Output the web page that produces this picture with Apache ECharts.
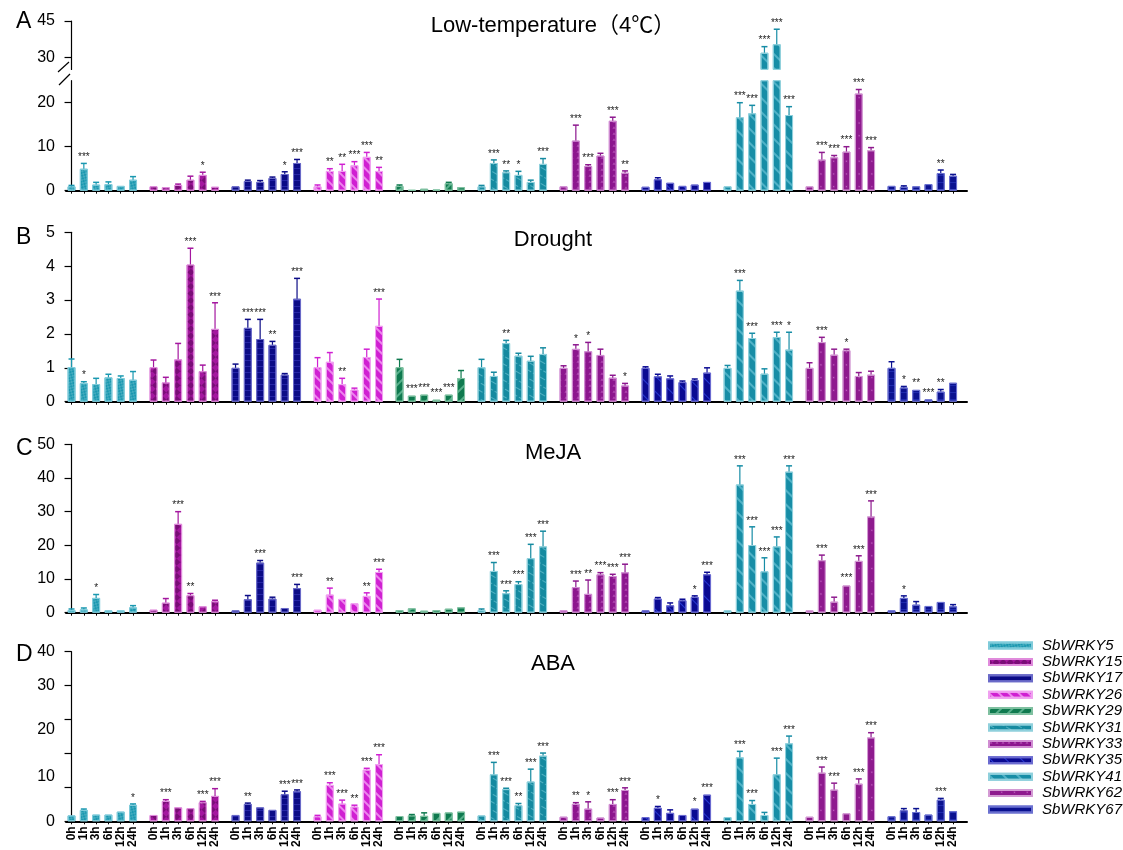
<!DOCTYPE html>
<html><head><meta charset="utf-8">
<script src="https://cdn.jsdelivr.net/npm/echarts@6/dist/echarts.min.js"></script>
<style>html,body{margin:0;padding:0;background:#fff}#c{width:1123px;height:850px}</style>
</head><body><div id="c"></div>
<script>
// ---------------- data ----------------
const genes = ['SbWRKY5','SbWRKY15','SbWRKY17','SbWRKY26','SbWRKY29','SbWRKY31','SbWRKY33','SbWRKY35','SbWRKY41','SbWRKY62','SbWRKY67'];
const timeLabels = ['0h','1h','3h','6h','12h','24h'];
const panelLetters = ['A','B','C','D'];
const panelTitles = ['Low-temperature（4℃）','Drought','MeJA','ABA'];

// A: Low-temperature (4℃)
const lowTempMean = [
 [1.0,5.0,1.4,1.5,1.1,2.5],[1.0,0.8,1.3,2.5,3.6,0.9],[1.0,2.2,2.0,2.9,3.8,6.3],[1.0,4.5,4.5,5.8,7.7,4.5],
 [1.1,0.15,0.45,0.25,1.7,0.8],[1.0,6.3,4.2,3.6,2.0,6.1],[1.0,11.4,5.6,8.0,15.9,4.1],[0.9,2.6,1.8,1.1,1.4,2.0],
 [1.0,16.7,17.6,31.9,35.4,17.2],[1.0,7.1,7.6,8.9,22.1,9.2],[1.1,0.9,1.0,1.5,4.0,3.4]];
const lowTempErr = [
 [1.2,6.2,1.9,2.0,1.2,3.2],[1.1,0.9,1.5,3.3,4.2,1.0],[1.1,2.4,2.3,3.1,4.3,7.1],[1.3,5.0,6.0,6.6,8.7,5.3],
 [1.3,0.2,0.5,0.3,1.9,0.9],[1.2,7.0,4.5,4.4,2.4,7.3],[1.1,14.9,5.9,8.5,16.7,4.5],[1.0,2.95,1.9,1.2,1.5,2.1],
 [1.1,20.0,19.4,34.4,41.6,19.1],[1.1,8.7,8.0,10.0,23.0,9.8],[1.2,1.1,1.1,1.6,4.7,3.7]];
const lowTempSig = [
 ['','***','','','',''],['','','','','*',''],['','','','','*','***'],['','**','**','***','***','**'],
 ['','','','','',''],['','***','**','*','','***'],['','***','***','','***','**'],['','','','','',''],
 ['','***','***','***','***','***'],['','***','***','***','***','***'],['','','','','**','']];

// B: Drought
const droughtMean = [
 [1.02,0.55,0.52,0.72,0.70,0.65],[1.02,0.57,1.25,4.05,0.90,2.15],[1.0,2.18,1.85,1.68,0.80,3.04],[1.02,1.18,0.52,0.36,1.32,2.24],
 [1.02,0.18,0.21,0.06,0.21,0.70],[1.02,0.76,1.73,1.36,1.21,1.41],[1.0,1.56,1.49,1.38,0.71,0.48],[1.0,0.75,0.69,0.58,0.64,0.86],
 [1.0,3.28,1.88,0.83,1.91,1.54],[1.0,1.76,1.39,1.52,0.76,0.80],[1.0,0.42,0.35,0.07,0.30,0.56]];
const droughtErr = [
 [1.26,0.59,0.69,0.81,0.76,0.89],[1.23,0.72,1.72,4.53,1.08,2.92],[1.11,2.43,2.43,1.78,0.83,3.64],[1.30,1.45,0.69,0.40,1.55,3.03],
 [1.25,0.20,0.23,0.08,0.23,0.92],[1.25,0.87,1.81,1.43,1.34,1.59],[1.06,1.68,1.75,1.55,0.78,0.54],[1.03,0.81,0.76,0.61,0.67,1.0],
 [1.07,3.58,2.02,0.97,2.05,2.05],[1.15,1.90,1.55,1.55,0.86,0.90],[1.18,0.45,0.37,0.08,0.36,0.57]];
const droughtSig = [
 ['','*','','','',''],['','','','***','','***'],['','***','***','**','','***'],['','','**','','','***'],
 ['','***','***','***','***',''],['','','**','','',''],['','*','*','','','*'],['','','','','',''],
 ['','***','***','','***','*'],['','***','','*','',''],['','*','**','***','**','']];

// C: MeJA
const mejaMean = [
 [0.8,1.0,4.4,0.7,0.7,1.6],[0.9,3.0,26.4,5.2,1.9,3.4],[0.7,4.0,14.9,4.2,1.4,7.3],[0.9,5.4,4.1,2.8,5.0,12.1],
 [0.8,1.3,0.6,0.8,1.2,1.6],[0.8,12.4,5.8,8.5,16.2,19.7],[0.7,7.6,5.6,11.4,10.9,12.0],[0.7,4.2,2.2,3.7,4.7,11.4],
 [0.7,38.1,20.1,12.3,19.7,41.9],[0.7,15.6,3.3,8.1,15.4,28.6],[0.7,4.4,2.4,2.0,3.2,1.9]];
const mejaErr = [
 [1.1,1.4,5.4,0.8,0.8,2.1],[1.1,4.2,30.0,5.7,2.0,3.7],[0.8,5.1,15.5,4.6,1.5,8.4],[1.1,7.3,4.2,3.0,5.9,12.9],
 [1.0,1.4,0.7,0.9,1.3,1.7],[1.1,14.9,6.5,9.2,20.3,24.2],[0.8,9.4,9.7,11.9,11.4,14.4],[0.8,4.5,2.9,4.0,5.0,12.0],
 [0.8,43.6,25.5,16.3,22.5,43.6],[0.8,17.1,4.6,8.3,16.9,33.2],[0.8,5.0,3.3,2.1,3.4,2.4]];
const mejaSig = [
 ['','','*','','',''],['','','***','**','',''],['','','***','','','***'],['','**','','','**','***'],
 ['','','','','',''],['','***','***','***','***','***'],['','***','**','***','***','***'],['','','','','*','***'],
 ['','***','***','***','***','***'],['','***','','***','***','***'],['','*','','','','']];

// D: ABA
const abaMean = [
 [1.4,2.7,1.6,1.6,2.3,3.9],[1.5,4.8,3.3,3.1,4.5,6.0],[1.5,4.1,3.3,2.7,6.4,7.1],[1.2,8.6,4.2,3.5,12.2,13.5],
 [1.25,1.4,1.3,2.0,2.1,2.3],[1.4,11.1,7.6,3.8,9.4,15.5],[1.1,4.1,3.0,0.9,4.1,7.4],[1.0,3.2,2.0,1.5,3.0,6.3],
 [1.0,15.1,4.1,1.5,11.1,18.4],[1.1,11.5,7.5,1.9,8.9,19.8],[1.2,2.6,2.2,1.6,5.1,2.4]];
const abaErr = [
 [1.5,2.9,1.7,1.7,2.4,4.1],[1.6,5.1,3.4,3.2,4.7,7.7],[1.6,4.3,3.4,2.8,7.1,7.4],[1.4,9.1,5.0,3.8,12.5,15.7],
 [1.4,1.6,2.0,2.1,2.2,2.4],[1.5,13.9,7.8,4.2,12.3,16.1],[1.2,4.4,4.6,1.0,5.1,7.9],[1.1,3.5,2.7,1.6,3.1,6.4],
 [1.1,16.5,4.9,2.1,14.9,20.1],[1.2,12.8,9.0,2.0,10.0,20.9],[1.3,3.0,3.0,1.7,5.4,2.5]];
const abaSig = [
 ['','','','','','*'],['','***','','','***','***'],['','**','','','***','***'],['','***','***','**','***','***'],
 ['','','','','',''],['','***','***','**','***','***'],['','**','*','','***','***'],['','*','','','*','***'],
 ['','***','***','','***','***'],['','***','***','','***','***'],['','','','','***','']];

// y-axis tick / label values
const yTicksAUpper = [30,45];
const yTicksALower = [0,10,20];
const yTicksD = [0,8,16,24,32,40];
const yLabelPosD = [0,10.6,21.6,32,40];
const yLabelTextD = ['0','10','20','30','40'];

// ---------------- styles ----------------
const colors = ['#1A98B0','#A4179F','#0B0B86','#D020D2','#0F7A4F','#158AA0','#8C168E','#0A0A92','#178DA6','#8E1A8E','#0B1290'];
const borders = ['#7FCBDA','#E08BDC','#6A6AC8','#F0A0F0','#7FC0A0','#8FD0DC','#D08CD2','#6A6AD0','#8FD0DC','#D49AD4','#6A70D0'];
const decals = [
 {symbol:'rect',symbolSize:1,dashArrayX:[[2,2],[0,2,2,0]],dashArrayY:[2,0],color:'rgba(255,255,255,0.18)'},
 {symbol:'rect',symbolSize:1,dashArrayX:[[5,5],[0,5,5,0]],dashArrayY:[5,0],color:'rgba(70,0,70,0.45)'},
 {symbol:'rect',symbolSize:1,dashArrayX:[1,0],dashArrayY:[1,5],color:'rgba(90,90,230,0.35)'},
 {symbol:'rect',symbolSize:1,dashArrayX:[1,0],dashArrayY:[1.5,5],rotation:Math.PI/4,color:'rgba(255,200,255,0.6)'},
 {symbol:'rect',symbolSize:1,dashArrayX:[1,0],dashArrayY:[1.5,6],rotation:-Math.PI/4,color:'rgba(160,230,200,0.5)'},
 {symbol:'rect',symbolSize:1,dashArrayX:[6,2],dashArrayY:[1,6],color:'rgba(170,235,245,0.4)'},
 {symbol:'triangle',symbolSize:0.8,dashArrayX:[4,2],dashArrayY:[3,3],color:'rgba(230,150,230,0.4)'},
 {symbol:'rect',symbolSize:1,dashArrayX:[1,0],dashArrayY:[1,10],rotation:Math.PI/4,color:'rgba(60,90,255,0.6)'},
 {symbol:'rect',symbolSize:1,dashArrayX:[1,0],dashArrayY:[1.5,8],rotation:Math.PI/4,color:'rgba(150,225,240,0.45)'},
 {symbol:'circle',symbolSize:0.5,dashArrayX:[3,6],dashArrayY:[3,6],color:'rgba(240,160,240,0.6)'},
 {symbol:'rect',symbolSize:1,dashArrayX:[1,0],dashArrayY:[1,6],color:'rgba(60,80,220,0.4)'}
];

const FONT = 'Arial, "Liberation Sans", "Noto Sans CJK SC", sans-serif';
const P = 20/3; // group period in bar slots
const xOf = (g,t) => g*P + t;
const tickVals = [];
genes.forEach((_,g)=>timeLabels.forEach((lab,t)=>tickVals.push(xOf(g,t))));

const XMIN = -0.45, XMAX = 72.8;
const L = 66, W = 901;
const grids = [
 {left:L,width:W,top:21,height:48.4},
 {left:L,width:W,top:80.7,height:110},
 {left:L,width:W,top:232.3,height:169.4},
 {left:L,width:W,top:444.3,height:168.4},
 {left:L,width:W,top:651.7,height:170}
];
const xAxes = grids.map((_,i)=>({
 type:'value', gridIndex:i, min:XMIN, max:XMAX,
 axisLine:{show:i!==0,onZero:false,lineStyle:{color:'#000',width:2}},
 axisTick:{show:i!==0,customValues:tickVals,length:3,lineStyle:{color:'#000',width:1}},
 axisLabel:{show:false},
 splitLine:{show:false}
}));
// label-only axes on panel D, one per time point (so labels never collide)
timeLabels.forEach((lab,t)=>{
 const vals = genes.map((_,g)=>xOf(g,t));
 xAxes.push({type:'value',gridIndex:4,position:'bottom',offset:0,min:XMIN,max:XMAX,
  axisLine:{show:false},axisTick:{show:false},splitLine:{show:false},
  axisLabel:{show:true,customValues:vals,rotate:90,margin:5,fontSize:12,fontWeight:'bold',hideOverlap:false,
   showMinLabel:true,showMaxLabel:true,color:'#000',fontFamily:FONT,formatter:()=>lab}});
});
const yBase = {type:'value',axisLine:{show:true,lineStyle:{color:'#000',width:1.2}},
 axisTick:{show:true,length:7,lineStyle:{color:'#000',width:1.2}},splitLine:{show:false}};
const yLab = {fontSize:16,color:'#000',fontFamily:FONT,margin:11};
const yAxes = [
 Object.assign({},yBase,{gridIndex:0,min:25,max:45,axisTick:Object.assign({},yBase.axisTick,{customValues:yTicksAUpper}),axisLabel:Object.assign({},yLab,{customValues:yTicksAUpper})}),
 Object.assign({},yBase,{gridIndex:1,min:0,max:25,axisTick:Object.assign({},yBase.axisTick,{customValues:yTicksALower}),axisLabel:Object.assign({},yLab,{customValues:yTicksALower})}),
 Object.assign({},yBase,{gridIndex:2,min:0,max:5,interval:1,axisLabel:yLab}),
 Object.assign({},yBase,{gridIndex:3,min:0,max:50,interval:10,axisLabel:yLab}),
 Object.assign({},yBase,{gridIndex:4,min:0,max:40,axisTick:Object.assign({},yBase.axisTick,{customValues:yTicksD}),
   axisLabel:Object.assign({},yLab,{customValues:yLabelPosD,formatter:v=>{const i=yLabelPosD.indexOf(v);return i>=0?yLabelTextD[i]:'';}})})
];

function errRender(sigArr, color, yLo, yHi){
 return function(params, api){
  const x=api.value(0), top=api.value(1), mean=api.value(2);
  if (isNaN(mean) || mean < yLo || top > yHi) return;
  const p0=api.coord([x,mean]), p1=api.coord([x,top]);
  const sig=sigArr[params.dataIndex];
  const ch=[];
  if (p0[1]-p1[1] > 0.8){
   ch.push({type:'line',shape:{x1:p0[0],y1:p0[1],x2:p1[0],y2:p1[1]},style:{stroke:color,lineWidth:1.2}});
   ch.push({type:'line',shape:{x1:p1[0]-3,y1:p1[1],x2:p1[0]+3,y2:p1[1]},style:{stroke:color,lineWidth:1.5}});
  }
  if (sig) ch.push({type:'text',x:p1[0],y:p1[1]-1,style:{text:sig,fill:'#222',font:'10px '+FONT,align:'center',verticalAlign:'bottom'}});
  return {type:'group',children:ch};
 };
}

const series = [];
function addPanel(gridIdx, means, errs, sigs, yLo, yHi, onlyAbove){
 genes.forEach((name,g)=>{
  series.push({type:'bar',name:name,xAxisIndex:gridIdx,yAxisIndex:gridIdx,barWidth:8,barGap:'-100%',clip:true,
   itemStyle:{color:colors[g],borderColor:borders[g],borderWidth:1,decal:decals[g]},
   data:means[g].map((v,t)=>[xOf(g,t), (onlyAbove && v<=yLo) ? '-' : v])});
  series.push({type:'custom',name:'err',xAxisIndex:gridIdx,yAxisIndex:gridIdx,
   renderItem:errRender(sigs[g],colors[g],onlyAbove?yLo:-1,yHi),
   data:means[g].map((v,t)=>[xOf(g,t), errs[g][t], v]), z:3});
 });
}
addPanel(0, lowTempMean, lowTempErr, lowTempSig, 25, 45, true);
addPanel(1, lowTempMean, lowTempErr, lowTempSig, -1, 25, false);
addPanel(2, droughtMean, droughtErr, droughtSig, -1, 5, false);
addPanel(3, mejaMean, mejaErr, mejaSig, -1, 50, false);
addPanel(4, abaMean, abaErr, abaSig, -1, 40, false);

const titleTops = [15, 229, 442, 653];
const letterTops = [10, 226, 437, 643];
const titles = [];
panelLetters.forEach((l,i)=>titles.push({text:l,left:16,top:letterTops[i],padding:0,textStyle:{fontSize:23,fontWeight:'normal',color:'#000',fontFamily:FONT}}));
panelTitles.forEach((t,i)=>titles.push({text:t,left:553,top:titleTops[i],padding:0,textAlign:'center',textStyle:{fontSize:22,fontWeight:'normal',color:'#000',fontFamily:FONT}}));

const chart = echarts.init(document.getElementById('c'), null, {renderer:'canvas'});
chart.setOption({
 animation:false,
 backgroundColor:'#fff',
 aria:{enabled:true,label:{enabled:false},decal:{show:true}},
 title:titles,
 grid:grids, xAxis:xAxes, yAxis:yAxes,
 legend:{data:genes,orient:'vertical',left:988,top:638,padding:0,itemWidth:43,itemHeight:6,itemGap:1.4,icon:'rect',
   textStyle:{fontSize:15,fontStyle:'italic',color:'#000',fontFamily:FONT,lineHeight:15,padding:[0,0,0,5]}},
 graphic:[
  {type:'line',shape:{x1:58,y1:72,x2:69,y2:62},style:{stroke:'#000',lineWidth:1.2}},
  {type:'line',shape:{x1:59,y1:85,x2:70,y2:74},style:{stroke:'#000',lineWidth:1.2}}
 ],
 series:series
});
</script></body></html>
